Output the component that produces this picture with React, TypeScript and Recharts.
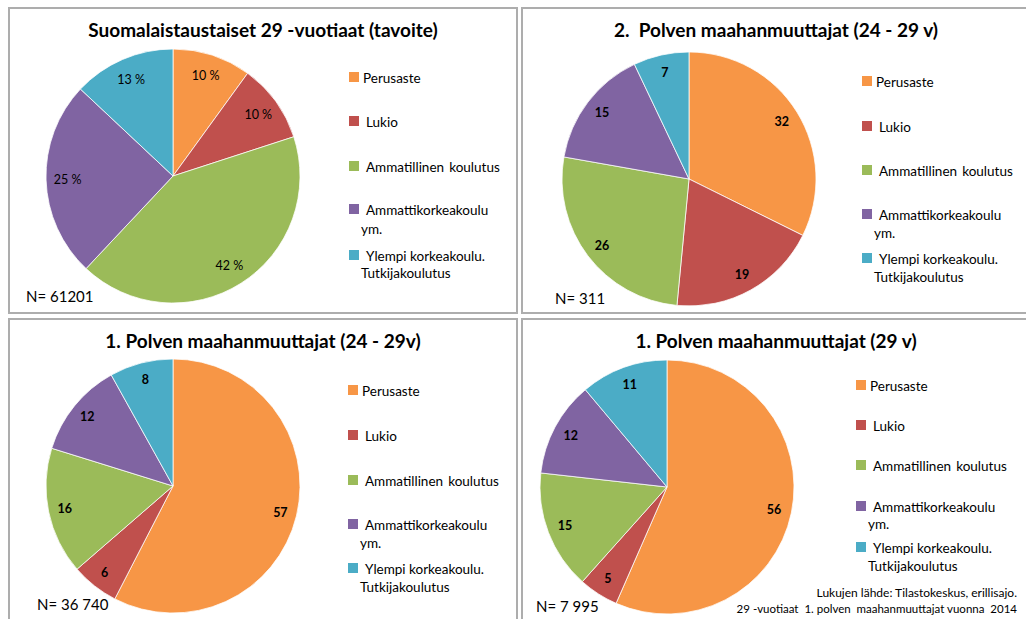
import React from 'react';
import { PieChart, Pie, Cell } from 'recharts';

const CATEGORIES = ['Perusaste', 'Lukio', 'Ammatillinen koulutus', 'Ammattikorkeakoulu ym.', 'Ylempi korkeakoulu. Tutkijakoulutus'];
const LEGEND_LINES = [['Perusaste'], ['Lukio'], ['Ammatillinen\u2009 koulutus'], ['Ammattikorkeakoulu', 'ym.'], ['Ylempi korkeakoulu.', 'Tutkijakoulutus']];
const COLORS = ['#F79646', '#C0504D', '#9BBB59', '#8064A2', '#4BACC6'];

const FINNISH_29 = [10, 10, 42, 25, 13];
const GEN2_24_29 = [32, 19, 26, 15, 7];
const GEN1_24_29 = [57, 6, 16, 12, 8];
const GEN1_29 = [56, 5, 15, 12, 11];

const FONT = 'Lato, "Open Sans", sans-serif';
const RADIAN = Math.PI / 180;
const W = 510;
const H = 307;

type PanelProps = {
  left: number;
  top: number;
  title: string;
  values: number[];
  percent?: boolean;
  cx: number;
  cy: number;
  labelR: number;
  legendX: number;
  legendY: number[][];
  n: string;
  nX: number;
  nY: number;
  children?: React.ReactNode;
};

const Panel: React.FC<PanelProps> = (p) => {
  const data = CATEGORIES.map((name, i) => ({ name, value: p.values[i] }));

  const renderLabel = (props: any) => {
    const { cx, cy, midAngle, outerRadius, value } = props;
    const r = outerRadius * p.labelR;
    const x = cx + r * Math.cos(-midAngle * RADIAN);
    const y = cy + r * Math.sin(-midAngle * RADIAN);
    return (
      <text x={x} y={y} textAnchor="middle" dominantBaseline="central" fill="#000"
        style={{ fontFamily: FONT, fontSize: 12.5, fontWeight: p.percent ? 400 : 700 }}>
        {p.percent ? `${value} %` : value}
      </text>
    );
  };

  return (
    <div style={{ position: 'absolute', left: p.left, top: p.top, width: W, height: H, border: '2px solid #ADADAD', boxSizing: 'border-box', background: '#fff', fontFamily: FONT }}>
      <div style={{ position: 'absolute', left: -2, top: 8, width: W, textAlign: 'center', fontSize: 19, fontWeight: 700, color: '#000', lineHeight: '26px', whiteSpace: 'pre' }}>
        {p.title}
      </div>
      <div style={{ position: 'absolute', left: -2, top: -2 }}>
        <PieChart width={W} height={H} margin={{ top: 0, right: 0, bottom: 0, left: 0 }}>
          <Pie data={data} dataKey="value" cx={p.cx} cy={p.cy} outerRadius={127} startAngle={90} endAngle={-270}
            stroke="#fff" strokeWidth={0.75} label={renderLabel} labelLine={false} isAnimationActive={false}>
            {data.map((d, i) => <Cell key={i} fill={COLORS[i]} />)}
          </Pie>
        </PieChart>
      </div>
      {LEGEND_LINES.map((lines, i) => (
        <React.Fragment key={i}>
          <div style={{ position: 'absolute', left: p.legendX - 2, top: p.legendY[i][0] - 7, width: 10, height: 10, background: COLORS[i] }} />
          {lines.map((line, j) => (
            <div key={j} style={{ position: 'absolute', left: p.legendX + (j === 0 ? (i === 0 ? 12 : 15) : 10), top: p.legendY[i][j] - 10, fontSize: 13.5, lineHeight: '18px', color: '#000', whiteSpace: 'nowrap' }}>
              {line}
            </div>
          ))}
        </React.Fragment>
      ))}
      <div style={{ position: 'absolute', left: p.nX - 2, top: p.nY - 12, fontSize: 15, lineHeight: '20px', color: '#000', whiteSpace: 'nowrap' }}>
        {p.n}
      </div>
      {p.children}
    </div>
  );
};

export default function App() {
  return (
    <div style={{ position: 'absolute', left: 0, top: 0, width: 1026, height: 619, overflow: 'hidden', background: '#fff' }}>
      <Panel left={8} top={7} title="Suomalaistaustaiset 29 -vuotiaat (tavoite)" values={FINNISH_29} percent
        cx={165} cy={169} labelR={0.83} legendX={341}
        legendY={[[70], [114], [159], [202, 221], [248, 265]]}
        n="N= 61201" nX={18} nY={289} />
      <Panel left={521} top={7} title="2.  Polven maahanmuuttajat (24 - 29 v)" values={GEN2_24_29}
        cx={168} cy={172} labelR={0.86} legendX={341}
        legendY={[[74], [119], [163], [207, 225], [251, 269]]}
        n="N= 311" nX={34} nY={291} />
      <Panel left={8} top={318} title="1. Polven maahanmuuttajat (24 - 29v)" values={GEN1_24_29}
        cx={165} cy={168} labelR={0.87} legendX={340}
        legendY={[[72], [117], [162], [206, 224], [250, 268]]}
        n="N= 36 740" nX={29} nY={286} />
      <Panel left={521} top={318} title="1. Polven maahanmuuttajat (29 v)" values={GEN1_29}
        cx={146} cy={169} labelR={0.86} legendX={335}
        legendY={[[67], [107], [147], [188, 205], [229, 247]]}
        n="N= 7 995" nX={15} nY={288}>
        <div style={{ position: 'absolute', right: 12, top: 265, fontSize: 12, lineHeight: '16px', color: '#000', textAlign: 'right', whiteSpace: 'nowrap' }}>
          Lukujen lähde: Tilastokeskus, erillisajo.
        </div>
        <div style={{ position: 'absolute', right: 12, top: 281, fontSize: 11.5, lineHeight: '16px', color: '#000', textAlign: 'right', whiteSpace: 'nowrap' }}>
          29 -vuotiaat&nbsp; 1. polven&nbsp; maahanmuuttajat vuonna&nbsp; 2014
        </div>
      </Panel>
    </div>
  );
}
